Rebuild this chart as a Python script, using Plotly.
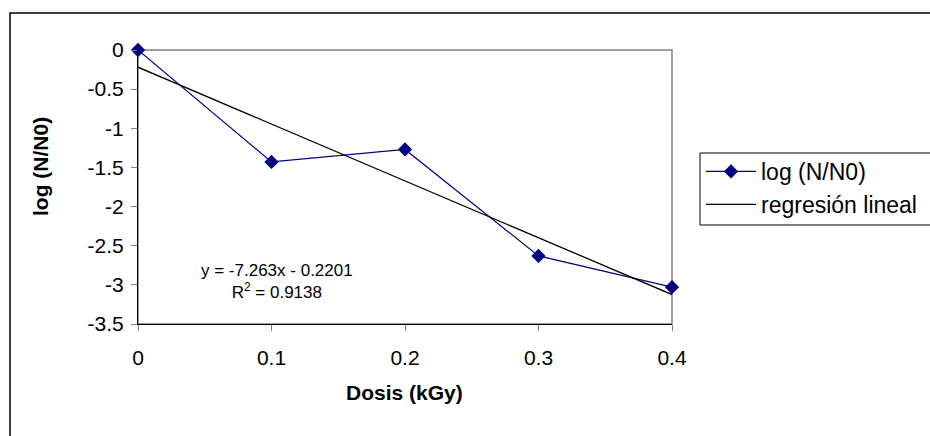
import numpy as np
import plotly.graph_objects as go

dosis = [0.0, 0.1, 0.2, 0.3, 0.4]
log_n_n0 = [0.0, -1.43, -1.27, -2.63, -3.03]
x_ticks = [0, 0.1, 0.2, 0.3, 0.4]
x_tick_labels = ["0", "0.1", "0.2", "0.3", "0.4"]
y_ticks = [0, -0.5, -1, -1.5, -2, -2.5, -3, -3.5]
y_tick_labels = ["0", "-0.5", "-1", "-1.5", "-2", "-2.5", "-3", "-3.5"]
eq_text = "y = -7.263x - 0.2201<br>R<sup>2</sup> = 0.9138"
x_title = "<b>Dosis (kGy)</b>"
y_title = "<b>log (N/N0)</b>"

slope, intercept = np.polyfit(dosis, log_n_n0, 1)
fit_x = [min(dosis), max(dosis)]
fit_y = [slope * v + intercept for v in fit_x]

FONT = "Arial, 'Liberation Sans', sans-serif"
FS = 21

fig = go.Figure()
fig.add_trace(go.Scatter(
    x=dosis, y=log_n_n0, mode="lines+markers", name="log (N/N0)",
    line=dict(color="#000080", width=1.2),
    marker=dict(symbol="diamond", size=11, color="#000080"),
    cliponaxis=False, legendgroup="a",
))
fig.add_trace(go.Scatter(
    x=fit_x, y=fit_y, mode="lines", name="regresión lineal",
    line=dict(color="black", width=1.3), cliponaxis=False, legendgroup="b",
))

L, R, T, B = 138, 672, 50, 324
W, H = 930, 436
pw, ph = R - L, B - T

def px(xp):
    return (xp - L) / pw

def py(yp):
    return 1 - (yp - T) / ph

fig.update_layout(
    width=W, height=H,
    margin=dict(l=L, r=W - R, t=T, b=H - B, pad=0, autoexpand=False),
    paper_bgcolor="white", plot_bgcolor="white",
    font=dict(family=FONT, size=FS, color="black"),
    showlegend=True,
    legend=dict(
        x=px(701), y=py(150), xanchor="left", yanchor="top",
        borderwidth=0, bgcolor="rgba(0,0,0,0)",
        font=dict(family=FONT, size=23, color="black"),
        itemwidth=50, tracegroupgap=0,
    ),
    xaxis=dict(
        range=[0, 0.4], tickvals=x_ticks, ticktext=x_tick_labels,
        showgrid=False, zeroline=False, showline=True, linecolor="black", linewidth=1,
        ticks="outside", ticklen=6, tickcolor="#808080",
        ticklabelstandoff=9, tickfont=dict(size=FS),
    ),
    yaxis=dict(
        range=[-3.5, 0], tickvals=y_ticks, ticktext=y_tick_labels,
        showgrid=False, zeroline=False, showline=True, linecolor="black", linewidth=1,
        ticks="outside", ticklen=6, tickcolor="#808080",
        ticklabelstandoff=3, tickfont=dict(size=FS),
    ),
    shapes=[
        dict(type="rect", xref="paper", yref="paper", x0=0, x1=1, y0=0, y1=1,
             line=dict(color="#808080", width=1.5), layer="below"),
        dict(type="rect", xref="paper", yref="paper",
             x0=px(10), x1=px(990), y0=py(480), y1=py(13),
             line=dict(color="black", width=1.5), layer="below"),
        dict(type="rect", xref="paper", yref="paper",
             x0=px(700), x1=px(990), y0=py(225), y1=py(153),
             line=dict(color="black", width=1), layer="below"),
    ],
    annotations=[
        dict(text=eq_text, xref="paper", yref="paper", x=px(277), y=py(281),
             xanchor="center", yanchor="middle",
             showarrow=False, align="center", font=dict(family=FONT, size=17)),
        dict(text=x_title, xref="paper", yref="paper", x=px(404), y=py(392),
             xanchor="center", yanchor="middle",
             showarrow=False, font=dict(family=FONT, size=21)),
        dict(text=y_title, xref="paper", yref="paper", x=px(40), y=py(167),
             xanchor="center", yanchor="middle", textangle=-90,
             showarrow=False, font=dict(family=FONT, size=21)),
    ],
)

fig.write_html(
    "out.html",
    config={"displayModeBar": False},
    post_script="document.body.style.margin='0';document.body.style.overflow='hidden';",
)
